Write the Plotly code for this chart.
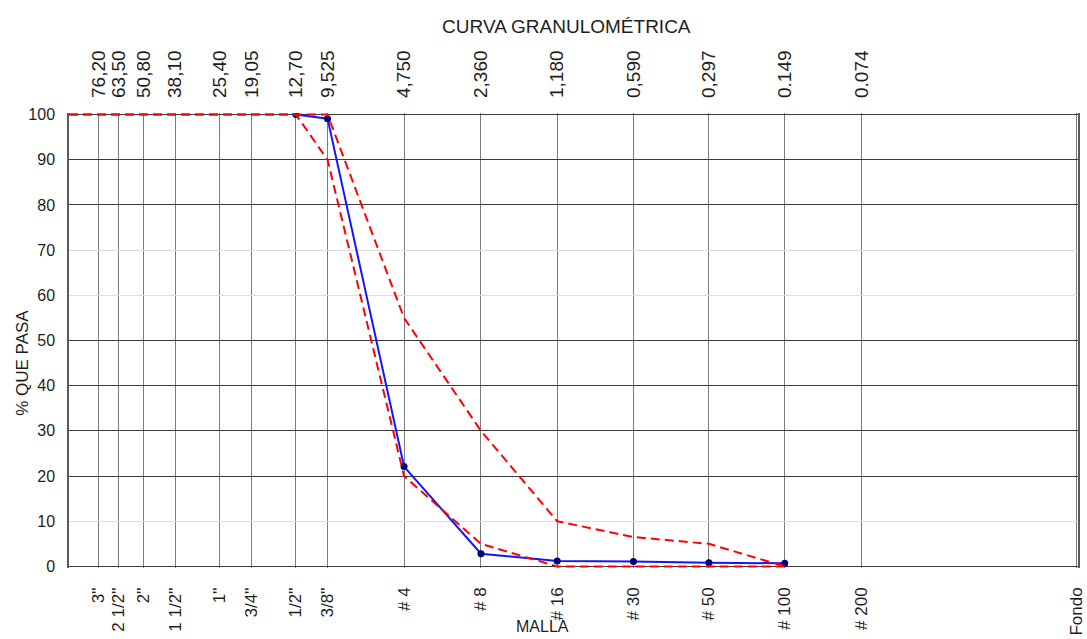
import plotly.graph_objects as go

# Sieve data
sieve_mm = [76.20, 63.50, 50.80, 38.10, 25.40, 19.05, 12.70, 9.525, 4.750, 2.360, 1.180, 0.590, 0.297, 0.149, 0.074]
sieve_mm_labels = ["76,20", "63,50", "50,80", "38,10", "25,40", "19,05", "12,70", "9,525",
                   "4,750", "2,360", "1,180", "0,590", "0,297", "0.149", "0.074"]
sieve_names = ["3''", "2 1/2''", "2''", "1 1/2''", "1''", "3/4''", "1/2''", "3/8''",
               "# 4", "# 8", "# 16", "# 30", "# 50", "# 100", "# 200"]
fondo_mm = 0.0105
fondo_label = "Fondo"

# Sample gradation (% passing)
sample_mm = [12.70, 9.525, 4.750, 2.360, 1.180, 0.590, 0.297, 0.149]
sample_pass = [100, 99.1, 22.1, 2.8, 1.2, 1.1, 0.8, 0.7]

# Specification limits
limit_mm = [100.0, 76.20, 63.50, 50.80, 38.10, 25.40, 19.05, 12.70, 9.525, 4.750, 2.360, 1.180, 0.590, 0.297, 0.149]
upper_limit = [100, 100, 100, 100, 100, 100, 100, 100, 100, 55, 30, 10, 6.5, 5, 0]
lower_limit = [100, 100, 100, 100, 100, 100, 100, 100, 90, 20, 5, 0, 0, 0, 0]

y_ticks = [0, 10, 20, 30, 40, 50, 60, 70, 80, 90, 100]
y_dark_grid = [0, 20, 30, 40, 50, 80, 90, 100]

FONT = "Liberation Sans, Arial, sans-serif"
TXT = "#1e1e1e"
xrange_log = [2.0, -1.985]
yrange = [-0.35, 100.35]

fig = go.Figure()

fig.add_trace(go.Scatter(
    x=limit_mm, y=upper_limit, mode="lines", xaxis="x2", yaxis="y2",
    line=dict(color="#ff0000", width=2, dash="9px,5px"), showlegend=False))
fig.add_trace(go.Scatter(
    x=limit_mm, y=lower_limit, mode="lines", xaxis="x2", yaxis="y2",
    line=dict(color="#ff0000", width=2, dash="9px,5px"), showlegend=False))
fig.add_trace(go.Scatter(
    x=sample_mm, y=sample_pass, mode="lines+markers",
    line=dict(color="#1414ff", width=2),
    marker=dict(color="#00007a", size=7), showlegend=False))

fig.update_layout(
    width=1087, height=639,
    margin=dict(l=69, r=9, t=113, b=71),
    paper_bgcolor="white", plot_bgcolor="white",
    font=dict(family=FONT, color=TXT),
    title=dict(text="CURVA GRANULOMÉTRICA", x=0.521, xanchor="center",
               y=0.958, yanchor="middle", yref="container",
               font=dict(size=19, family=FONT, color=TXT)),
    xaxis=dict(type="log", range=xrange_log, automargin=False,
               tickmode="array", tickvals=sieve_mm + [fondo_mm],
               ticktext=sieve_names + [fondo_label],
               tickangle=-90, tickfont=dict(size=17, family=FONT, color=TXT),
               ticks="", ticklabelstandoff=15,
               showgrid=True, gridcolor="#7a7a7a", gridwidth=1.4,
               zeroline=False, showline=False),
    xaxis2=dict(type="log", range=xrange_log, overlaying="x", side="top", automargin=False,
                tickmode="array", tickvals=sieve_mm, ticktext=sieve_mm_labels,
                tickangle=-90, tickfont=dict(size=19, family=FONT, color=TXT),
                ticks="", ticklabelstandoff=14,
                showgrid=False, zeroline=False, showline=False),
    yaxis=dict(range=yrange, automargin=False, tickmode="array", tickvals=y_ticks,
               tickfont=dict(size=16, family=FONT, color=TXT),
               ticks="", ticklabelstandoff=9,
               showgrid=True, gridcolor="#dddddd", gridwidth=1.3,
               zeroline=False, showline=True, mirror=True,
               linecolor="#5a5a5a", linewidth=1.5),
    yaxis2=dict(range=yrange, overlaying="y", automargin=False,
                tickmode="array", tickvals=y_dark_grid,
                showticklabels=False, ticks="",
                showgrid=True, gridcolor="#3a3a3a", gridwidth=1.4,
                zeroline=False, showline=False),
    annotations=[
        dict(text="MALLA", xref="paper", yref="paper", x=0.469, y=-0.128,
             xanchor="center", yanchor="middle", showarrow=False,
             font=dict(size=16, family=FONT, color=TXT)),
        dict(text="% QUE PASA", xref="paper", yref="paper", x=-0.046, y=0.45,
             xanchor="center", yanchor="middle", showarrow=False, textangle=-90,
             font=dict(size=17, family=FONT, color=TXT)),
    ],
)

fig.write_html("out.html")
